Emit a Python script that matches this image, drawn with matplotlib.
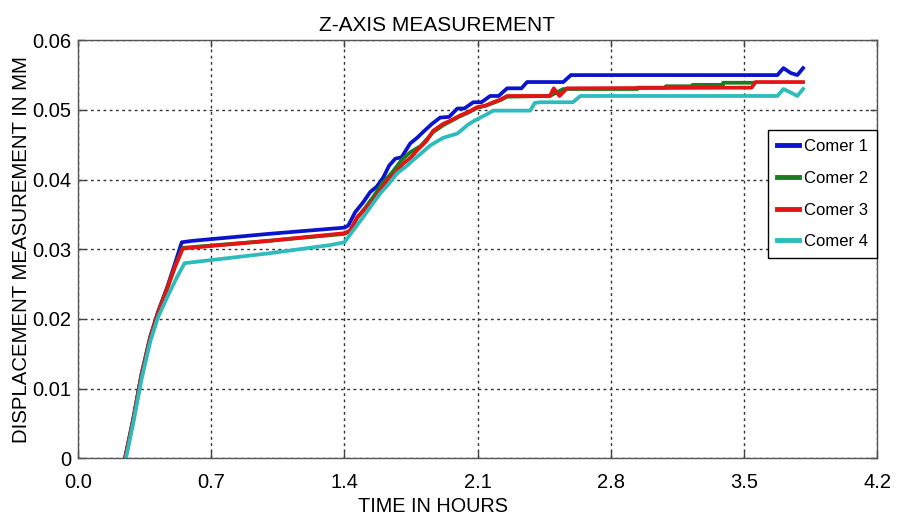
import matplotlib
matplotlib.use("Agg")
import matplotlib.pyplot as plt

plt.rcParams["font.family"] = ["Liberation Sans", "DejaVu Sans"]

# corner 1 (blue)
t1 = [0.247, 0.289, 0.333, 0.379, 0.42, 0.468, 0.51, 0.545, 0.60, 1.00, 1.40, 1.42,
      1.456, 1.50, 1.535, 1.57, 1.604, 1.635, 1.667, 1.70, 1.746, 1.782, 1.82, 1.86,
      1.903, 1.95, 1.993, 2.03, 2.077, 2.12, 2.166, 2.21, 2.255, 2.33, 2.36, 2.55,
      2.59, 3.675, 3.707, 3.745, 3.78, 3.81]
v1 = [0.0, 0.0055, 0.012, 0.0174, 0.021, 0.0245, 0.028, 0.031, 0.0312, 0.0322, 0.0331, 0.0334,
      0.0353, 0.0368, 0.0382, 0.039, 0.0403, 0.042, 0.043, 0.0432, 0.0452, 0.046, 0.047, 0.048,
      0.0489, 0.049, 0.0502, 0.0502, 0.0511, 0.0511, 0.052, 0.052, 0.0531, 0.0531, 0.054, 0.054,
      0.055, 0.055, 0.056, 0.0553, 0.055, 0.056]

# corner 2 (green)
t2 = [0.247, 0.289, 0.333, 0.379, 0.42, 0.468, 0.51, 0.55, 1.00, 1.40, 1.43, 1.467,
      1.51, 1.551, 1.60, 1.65, 1.70, 1.75, 1.80, 1.866, 1.919, 1.96, 2.008, 2.05,
      2.098, 2.14, 2.182, 2.22, 2.255, 2.48, 2.55, 2.94, 2.94, 3.09, 3.09, 3.23,
      3.23, 3.39, 3.39, 3.55]
v2 = [0.0, 0.0054, 0.0119, 0.0173, 0.0209, 0.0244, 0.0276, 0.0302, 0.0312, 0.0322, 0.0326, 0.0345,
      0.036, 0.0375, 0.0395, 0.041, 0.0428, 0.044, 0.0448, 0.0468, 0.0478, 0.0484, 0.0491, 0.0496,
      0.0503, 0.0506, 0.051, 0.0514, 0.0519, 0.052, 0.053, 0.053, 0.0532, 0.0532, 0.0534, 0.0534,
      0.0536, 0.0536, 0.0539, 0.0539]

# corner 3 (red)
t3 = [0.247, 0.289, 0.333, 0.379, 0.42, 0.468, 0.51, 0.55, 1.00, 1.40, 1.43, 1.467,
      1.51, 1.551, 1.59, 1.625, 1.67, 1.709, 1.75, 1.782, 1.83, 1.866, 1.919, 1.96,
      2.008, 2.05, 2.098, 2.14, 2.182, 2.22, 2.255, 2.48, 2.50, 2.53, 2.57, 3.54,
      3.56, 3.81]
v3 = [0.0, 0.0053, 0.0118, 0.0172, 0.0208, 0.0243, 0.0275, 0.0301, 0.0312, 0.0323, 0.0327, 0.0346,
      0.0358, 0.037, 0.0385, 0.0399, 0.041, 0.0423, 0.0432, 0.0442, 0.0455, 0.047, 0.048, 0.0485,
      0.0492, 0.0497, 0.0504, 0.0506, 0.0511, 0.0515, 0.052, 0.052, 0.0531, 0.052, 0.0531, 0.0532,
      0.054, 0.054]

# corner 4 (cyan)
t4 = [0.252, 0.29, 0.335, 0.38, 0.42, 0.47, 0.52, 0.56, 1.00, 1.325, 1.40, 1.446,
      1.498, 1.54, 1.588, 1.63, 1.677, 1.72, 1.761, 1.80, 1.851, 1.919, 1.993, 2.02,
      2.045, 2.08, 2.114, 2.15, 2.182, 2.376, 2.40, 2.43, 2.60, 2.64, 3.675, 3.707,
      3.745, 3.78, 3.81]
v4 = [0.0, 0.005, 0.0115, 0.0168, 0.0202, 0.0232, 0.026, 0.028, 0.0294, 0.0306, 0.031, 0.0327,
      0.0346, 0.0362, 0.038, 0.0393, 0.0409, 0.0418, 0.0428, 0.0437, 0.0449, 0.046, 0.0466, 0.0472,
      0.0478, 0.0484, 0.0489, 0.0494, 0.0499, 0.0499, 0.051, 0.0511, 0.0511, 0.052, 0.052, 0.053,
      0.0525, 0.052, 0.053]

series = [
    (t1, v1, "Comer 1", "#0a14cc"),
    (t2, v2, "Comer 2", "#1b7d1f"),
    (t3, v3, "Comer 3", "#e41414"),
    (t4, v4, "Comer 4", "#2cbcbc"),
]

xticks = [0.0, 0.7, 1.4, 2.1, 2.8, 3.5, 4.2]
yticks = [0, 0.01, 0.02, 0.03, 0.04, 0.05, 0.06]
yticklabels = ["0", "0.01", "0.02", "0.03", "0.04", "0.05", "0.06"]

fig = plt.figure(figsize=(8.97, 5.16), dpi=100)
ax = fig.add_axes([0.087, 0.112, 0.891, 0.81])

for t, v, name, c in series:
    ax.plot(t, v, color=c, linewidth=2.7, label=name, solid_joinstyle="round")

ax.set_xlim(0, 4.2)
ax.set_ylim(0, 0.06)
ax.set_xticks(xticks)
ax.set_xticklabels([f"{x:.1f}" for x in xticks])
ax.set_yticks(yticks)
ax.set_yticklabels(yticklabels)
ax.tick_params(direction="in", length=5, width=1, color="#444444",
               labelsize=14.5, top=True, right=True)
ax.tick_params(axis="x", pad=11)
ax.tick_params(axis="y", pad=5)
ax.grid(True, color="#333333", linestyle=(0, (2, 2.5)), linewidth=1.0)
for s in ax.spines.values():
    s.set_color("#555555")
    s.set_linewidth(1.0)

ax.set_title("Z-AXIS MEASUREMENT", fontsize=15, x=0.449, pad=7)
ax.set_xlabel("TIME IN HOURS", fontsize=14.3, x=0.444, labelpad=3)
ax.set_ylabel("DISPLACEMENT MEASUREMENT IN MM", fontsize=14.7, labelpad=1)

leg = ax.legend(loc="upper right", bbox_to_anchor=(1.0, 0.785), borderaxespad=0,
                fontsize=12, handlelength=1.3, labelspacing=1.0,
                handletextpad=0.3, borderpad=0.55, fancybox=False, framealpha=1)
leg.get_frame().set_edgecolor("black")
leg.get_frame().set_linewidth(1.0)
for line in leg.get_lines():
    line.set_linewidth(3.5)

fig.savefig("out.png", dpi=100)
